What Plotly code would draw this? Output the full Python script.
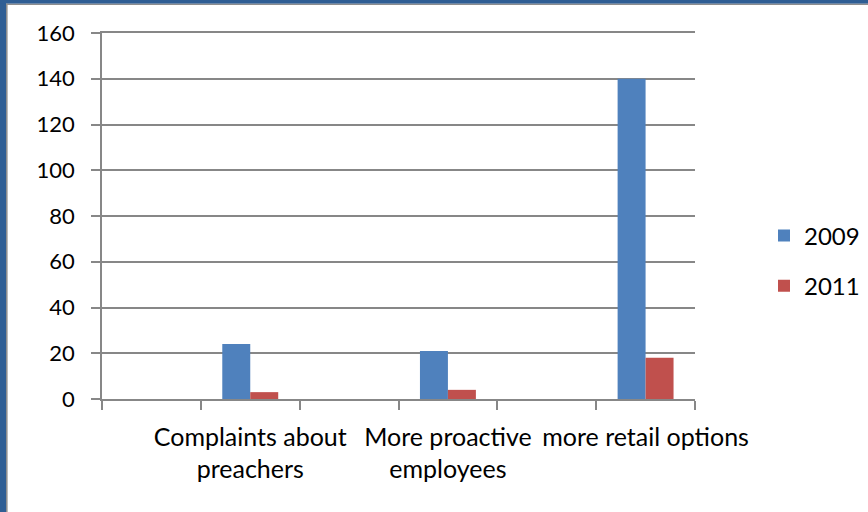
import plotly.graph_objects as go

categories = [" ", "Complaints about<br>preachers", "  ", "More proactive<br>employees", "   ", "more retail options"]
series_2009 = [None, 24, None, 21, None, 140]
series_2011 = [None, 3, None, 4, None, 18]
y_ticks = [0, 20, 40, 60, 80, 100, 120, 140, 160]

W, H = 868, 512
L, R, T, B = 102, 173, 33, 113
pw, ph = W - L - R, H - T - B

def px_x(p):
    return (p - L) / pw

def px_y(p):
    return (H - B - p) / ph

FONT = "Lato"
GRID = "#878787"
FRAME = "#2F5E94"

fig = go.Figure()
fig.add_trace(go.Bar(name="2009", x=categories, y=series_2009, marker=dict(color="#4F81BD", line=dict(width=0)), legendgroup="a"))
fig.add_trace(go.Bar(name="2011", x=categories, y=series_2011, marker=dict(color="#C0504D", line=dict(width=0)), legendgroup="b"))

shapes = [
    dict(type="rect", xref="paper", yref="paper", x0=px_x(0), x1=px_x(6), y0=px_y(H), y1=px_y(0), fillcolor=FRAME, line=dict(width=0), layer="above"),
    dict(type="rect", xref="paper", yref="paper", x0=px_x(0), x1=px_x(W), y0=px_y(3.7), y1=px_y(0), fillcolor=FRAME, line=dict(width=0), layer="above"),
    dict(type="rect", xref="paper", yref="paper", x0=px_x(6), x1=px_x(7.6), y0=px_y(H), y1=px_y(3.7), fillcolor="#8E8E8E", line=dict(width=0), layer="above"),
    dict(type="rect", xref="paper", yref="paper", x0=px_x(6), x1=px_x(W), y0=px_y(5), y1=px_y(3.7), fillcolor="#8E8E8E", line=dict(width=0), layer="above"),
]

fig.update_layout(
    width=W, height=H,
    margin=dict(l=L, r=R, t=T, b=B, pad=0, autoexpand=False),
    paper_bgcolor="white", plot_bgcolor="white",
    barmode="group", bargap=0.434, bargroupgap=0,
    font=dict(family=FONT, size=22, color="black"),
    showlegend=True,
    legend=dict(x=px_x(764), xanchor="left", y=px_y(261), yanchor="middle",
                tracegroupgap=16, font=dict(family=FONT, size=24), bgcolor="rgba(0,0,0,0)"),
    shapes=shapes,
    xaxis=dict(type="category", categoryorder="array", categoryarray=categories,
               tickson="boundaries", ticks="outside", ticklen=9, tickcolor=GRID, tickwidth=1.5,
               showline=True, linecolor=GRID, linewidth=1.5, showgrid=False, mirror=True,
               ticklabelstandoff=15, tickfont=dict(family=FONT, size=25), tickangle=0),
    yaxis=dict(range=[0, 160], tickvals=y_ticks, ticks="outside", ticklen=9, tickcolor=GRID, tickwidth=1.5,
               showline=True, linecolor=GRID, linewidth=1.5, showgrid=True, gridcolor=GRID, gridwidth=1.5,
               zeroline=False, ticklabelstandoff=12, tickfont=dict(family=FONT, size=22)),
)

fig.write_html("out.html")
